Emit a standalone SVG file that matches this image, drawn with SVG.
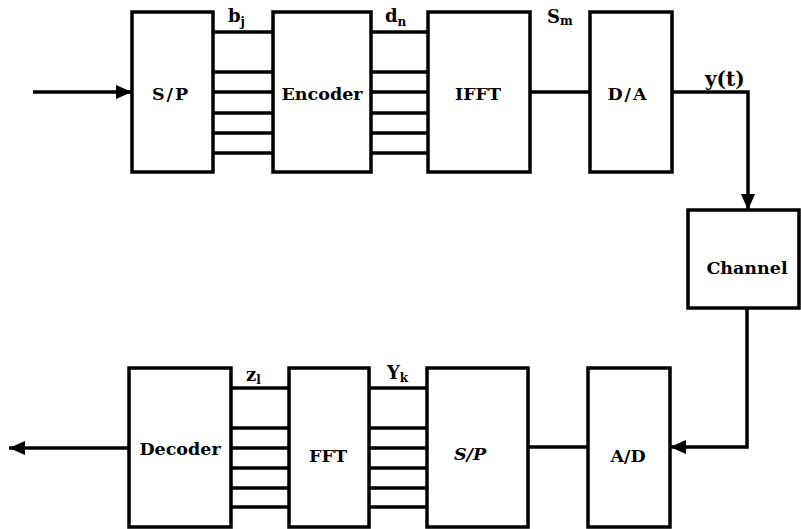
<svg xmlns="http://www.w3.org/2000/svg" width="801" height="529" viewBox="0 0 801 529">
<defs>
<marker id="ah" markerUnits="userSpaceOnUse" markerWidth="16" markerHeight="14" refX="16" refY="7" orient="auto">
<path d="M0,0 L16,7 L0,14 Z" fill="#000"/>
</marker>
<style>
.box{fill:#fff;stroke:#000;stroke-width:3.5}
.ln{fill:none;stroke:#000;stroke-width:3.5}
.t{font-family:'DejaVu Serif',serif;font-weight:bold;font-size:17.5px;text-anchor:middle;fill:#000}
.w{letter-spacing:2px}
.lb{font-family:'DejaVu Serif',serif;font-weight:bold;font-size:18px;fill:#000}
.sb{font-size:12px}
</style>
</defs>
<rect width="801" height="529" fill="#fff"/>
<g id="connectors">
<line class="ln" x1="33" y1="92" x2="132" y2="92" marker-end="url(#ah)"/>
<path class="ln" d="M213,32H273M213,72H273M213,92H273M213,113H273M213,133H273M213,153H273"/>
<path class="ln" d="M371,32H428M371,72H428M371,92H428M371,113H428M371,133H428M371,153H428"/>
<line class="ln" x1="530" y1="92" x2="590" y2="92"/>
<path class="ln" d="M672,92H748V210" marker-end="url(#ah)"/>
<path class="ln" d="M747,308V447H670" marker-end="url(#ah)"/>
<line class="ln" x1="528" y1="447" x2="588" y2="447"/>
<path class="ln" d="M369,388H427M369,428H427M369,448H427M369,468H427M369,488H427M369,507H427"/>
<path class="ln" d="M231,388H289M231,428H289M231,448H289M231,468H289M231,488H289M231,507H289"/>
<line class="ln" x1="129" y1="448" x2="9" y2="448" marker-end="url(#ah)"/>
</g>
<g id="labels">
<text class="lb" x="228" y="22">b<tspan class="sb" dy="4">j</tspan></text>
<text class="lb" x="385" y="22">d<tspan class="sb" dy="4">n</tspan></text>
<text class="lb" x="547" y="23">S<tspan class="sb" dy="2">m</tspan></text>
<text class="lb" x="705" y="86" style="font-size:20px">y(t)</text>
<text class="lb" x="246" y="381">z<tspan class="sb" dy="3">l</tspan></text>
<text class="lb" x="387" y="379">Y<tspan class="sb" dy="3">k</tspan></text>
</g>
<g id="sp1"><rect class="box" x="132" y="12" width="81" height="160"/><text class="t w" x="171" y="100">S/P</text></g>
<g id="encoder"><rect class="box" x="273" y="12" width="98" height="160"/><text class="t" x="322" y="100">Encoder</text></g>
<g id="ifft"><rect class="box" x="428" y="12" width="102" height="160"/><text class="t" x="478" y="100">IFFT</text></g>
<g id="da"><rect class="box" x="590" y="12" width="82" height="160"/><text class="t w" x="628" y="100">D/A</text></g>
<g id="channel"><rect class="box" x="688" y="210" width="111" height="98"/><text class="t" x="747" y="274">Channel</text></g>
<g id="ad"><rect class="box" x="588" y="368" width="82" height="159"/><text class="t" x="628" y="462">A/D</text></g>
<g id="sp2"><rect class="box" x="427" y="368" width="101" height="159"/><text class="t" x="470" y="460" style="font-style:italic">S/P</text></g>
<g id="fft"><rect class="box" x="289" y="368" width="80" height="159"/><text class="t" x="328" y="462">FFT</text></g>
<g id="decoder"><rect class="box" x="129" y="368" width="102" height="159"/><text class="t" x="180" y="455">Decoder</text></g>
</svg>
